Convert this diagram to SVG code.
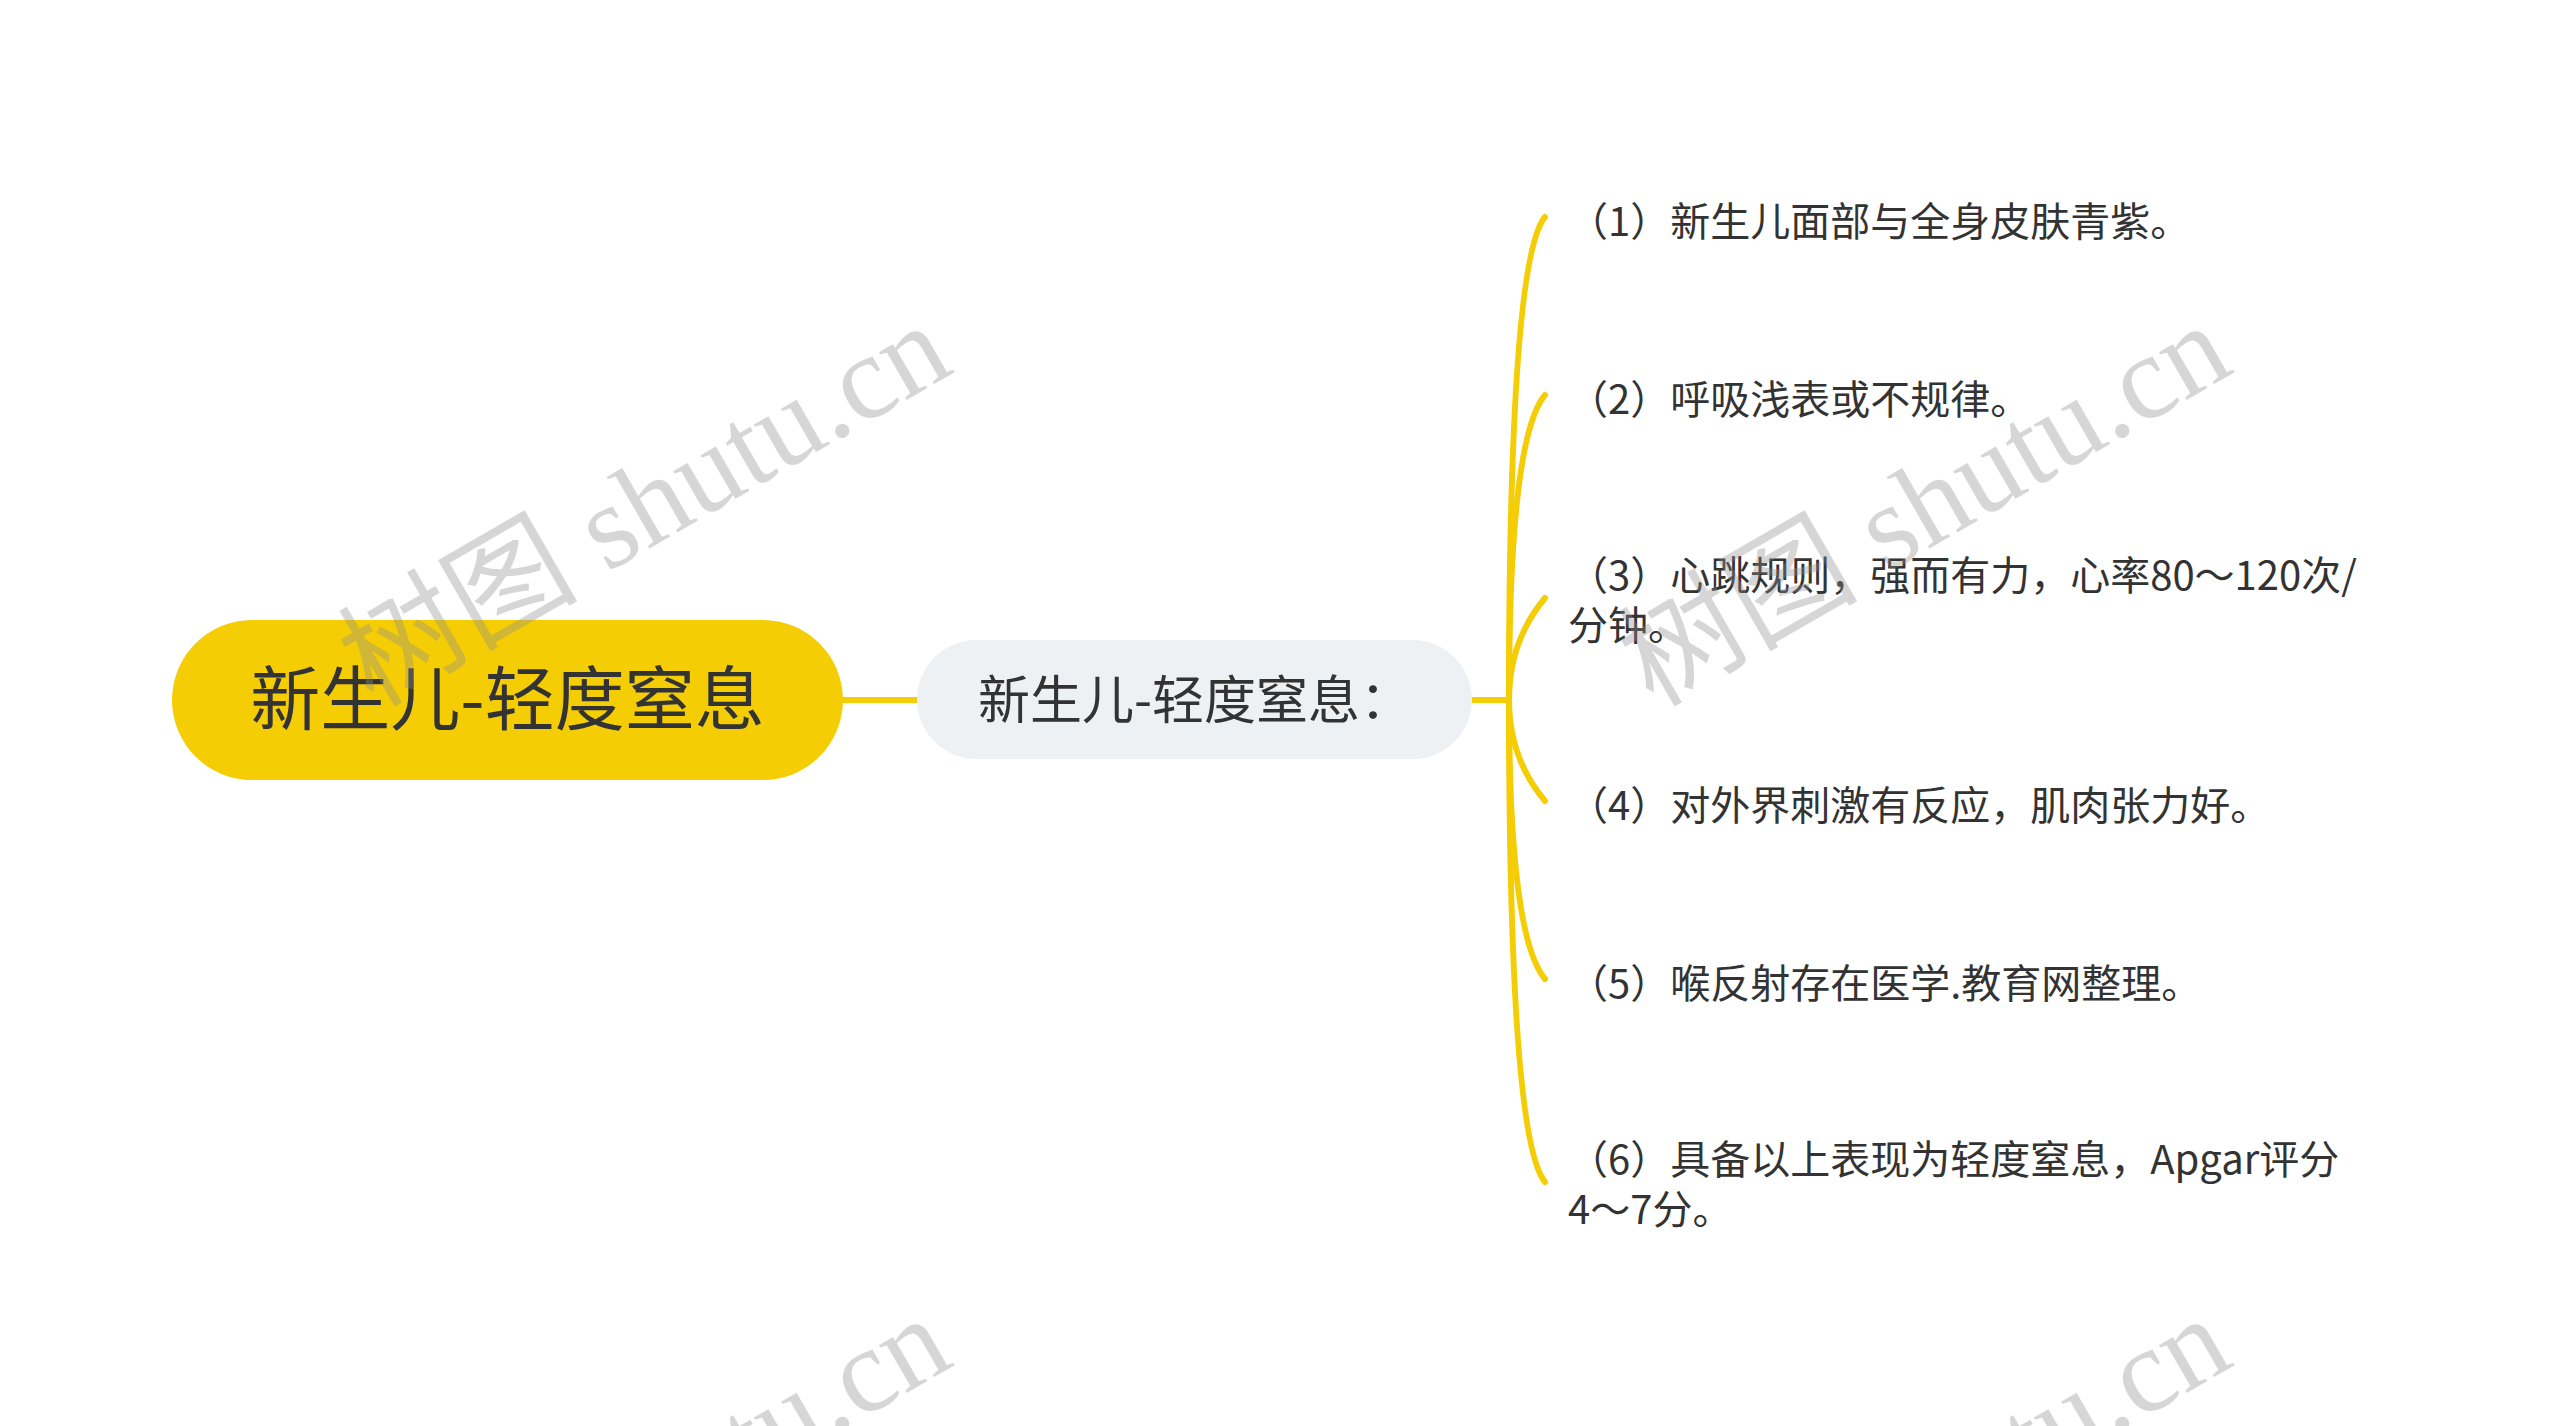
<svg xmlns="http://www.w3.org/2000/svg" width="2560" height="1426" viewBox="0 0 2560 1426">
<style>
.cjk{font-family:"Noto Sans CJK SC","Noto Sans",sans-serif;fill:#333333}
.root-t{font-size:70px}
.mid-t{font-size:52px}
.leaf-t{font-size:40px}
.conn{fill:none;stroke:#F5CD05;stroke-width:6;stroke-linecap:round}
.wm{font-family:"Liberation Serif","Noto Sans CJK SC",serif;font-size:120px;fill:#8c8c8c;fill-opacity:0.36}
</style>
<rect width="2560" height="1426" fill="#ffffff"/>
<g id="connectors">
<path class="conn" d="M843 700 H917"/>
<path class="conn" d="M1472 700 H1509"/>
<path class="conn" d="M1509 700 Q1509 260 1545 217"/>
<path class="conn" d="M1509 700 Q1509 438 1545 395"/>
<path class="conn" d="M1509 700 Q1509 641 1545 598"/>
<path class="conn" d="M1509 700 Q1509 758 1545 801"/>
<path class="conn" d="M1509 700 Q1509 936 1545 979"/>
<path class="conn" d="M1509 700 Q1509 1139 1545 1182"/>
</g>
<g id="root">
<rect x="172" y="620" width="671" height="160" rx="80" ry="80" fill="#F5CD05"/>
<text class="cjk root-t" x="507.5" y="725" text-anchor="middle">新生儿-轻度窒息</text>
</g>
<g id="main">
<rect x="917" y="640" width="555" height="119" rx="59.5" ry="59.5" fill="#EEF1F4"/>
<text class="cjk mid-t" x="978" y="719">新生儿-轻度窒息：</text>
</g>
<g id="leaf1"><text class="cjk leaf-t" x="1568" y="236">（1）新生儿面部与全身皮肤青紫。</text></g>
<g id="leaf2"><text class="cjk leaf-t" x="1568" y="414">（2）呼吸浅表或不规律。</text></g>
<g id="leaf3"><text class="cjk leaf-t" x="1568" y="590">（3）心跳规则，强而有力，心率80～120次/<tspan x="1568" y="640">分钟。</tspan></text></g>
<g id="leaf4"><text class="cjk leaf-t" x="1568" y="820">（4）对外界刺激有反应，肌肉张力好。</text></g>
<g id="leaf5"><text class="cjk leaf-t" x="1568" y="998">（5）喉反射存在医学.教育网整理。</text></g>
<g id="leaf6"><text class="cjk leaf-t" x="1568" y="1174">（6）具备以上表现为轻度窒息，Apgar评分<tspan x="1568" y="1224">4～7分。</tspan></text></g>
<g id="watermarks">
<text class="wm" transform="translate(373 708) rotate(-30)">树图 shutu.cn</text>
<text class="wm" transform="translate(1653 708) rotate(-30)">树图 shutu.cn</text>
<text class="wm" transform="translate(373 1701) rotate(-30)">树图 shutu.cn</text>
<text class="wm" transform="translate(1653 1701) rotate(-30)">树图 shutu.cn</text>
</g>
</svg>
